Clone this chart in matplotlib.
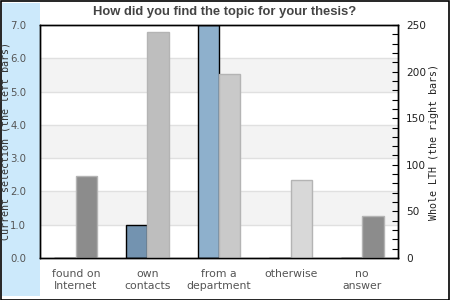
import matplotlib
matplotlib.use("Agg")
import matplotlib.pyplot as plt
from matplotlib.patches import Rectangle
import numpy as np

categories = ["found on\nInternet", "own\ncontacts", "from a\ndepartment", "otherwise", "no\nanswer"]
current = [0.0, 1.0, 7.0, 0.0, 0.0]
whole = [88, 243, 197, 84, 45]
current_colors = ["#7393b0", "#7393b0", "#8eb0cc", "#7393b0", "#7393b0"]
whole_colors = ["#8c8c8c", "#bebebe", "#c9c9c9", "#d8d8d8", "#8c8c8c"]

fig = plt.figure(figsize=(4.5, 3.0), dpi=100)
W, H = 450, 300
# light blue band on left
fig.patches.append(Rectangle((2 / W, 4 / H), 38 / W, 293 / H, transform=fig.transFigure,
                             facecolor="#cce9fb", edgecolor="none", zorder=-5))
# outer border
fig.patches.append(Rectangle((0.5 / W, 0.5 / H), 448.5 / W, 298.5 / H, transform=fig.transFigure,
                             facecolor="none", edgecolor="black", linewidth=1.2, zorder=-4))

ax = fig.add_axes([40 / W, 1 - 258 / H, 358 / W, 233 / H])
ax.set_facecolor("white")
x = np.arange(len(categories))
bw = 0.3

ax.set_ylim(0, 7)
ax.set_xlim(-0.5, len(categories) - 0.5)
for k in range(7):
    if k % 2 == 1:
        ax.axhspan(k, k + 1, facecolor="#f3f3f3", edgecolor="none", zorder=0)
for k in range(1, 7):
    ax.axhline(k, color="#e0e0e0", linewidth=1, zorder=0.5)

ax.bar(x - bw / 2, current, width=bw, color=current_colors, edgecolor="black", linewidth=1, zorder=2)

ax.set_yticks(np.arange(0, 8, 1))
ax.set_yticklabels([f"{v:.1f}" for v in range(8)])
ax.tick_params(axis="y", length=0, pad=10, labelsize=7.3, labelcolor="#555555")
ax.set_xticks(x)
ax.set_xticklabels(categories)
ax.tick_params(axis="x", length=0, pad=8, labelsize=7.8, labelcolor="#555555")
ax.set_ylabel("Current selection (the left bars)", family="DejaVu Sans Mono", fontsize=7.2,
              color="#333333")
ax.yaxis.set_label_coords(-0.082, 0.5)

ax2 = ax.twinx()
ax2.set_ylim(0, 250)
ax2.bar(x + bw / 2, whole, width=bw, color=whole_colors, edgecolor="#b4b4b4", linewidth=1, zorder=2)
ax2.set_yticks(np.arange(0, 251, 50))
ax2.set_yticks(np.arange(0, 251, 10), minor=True)
ax2.tick_params(axis="y", which="both", direction="in", length=4, width=0.8, color="black")
ax2.tick_params(axis="y", which="major", pad=6, labelsize=7.6, labelcolor="#222222")
ax2.set_ylabel("Whole LTH (the right bars)", family="DejaVu Sans Mono", fontsize=7.2,
               color="#222222")
ax2.yaxis.set_label_coords(1.087, 0.5)

for a in (ax, ax2):
    for s in a.spines.values():
        s.set_color("black")
        s.set_linewidth(1)

fig.text(225 / W, 1 - 12 / H, "How did you find the topic for your thesis?", ha="center", va="center",
         family="Liberation Sans", weight="bold", fontsize=9.4, color="#444444")

fig.savefig("out.png", dpi=100)
